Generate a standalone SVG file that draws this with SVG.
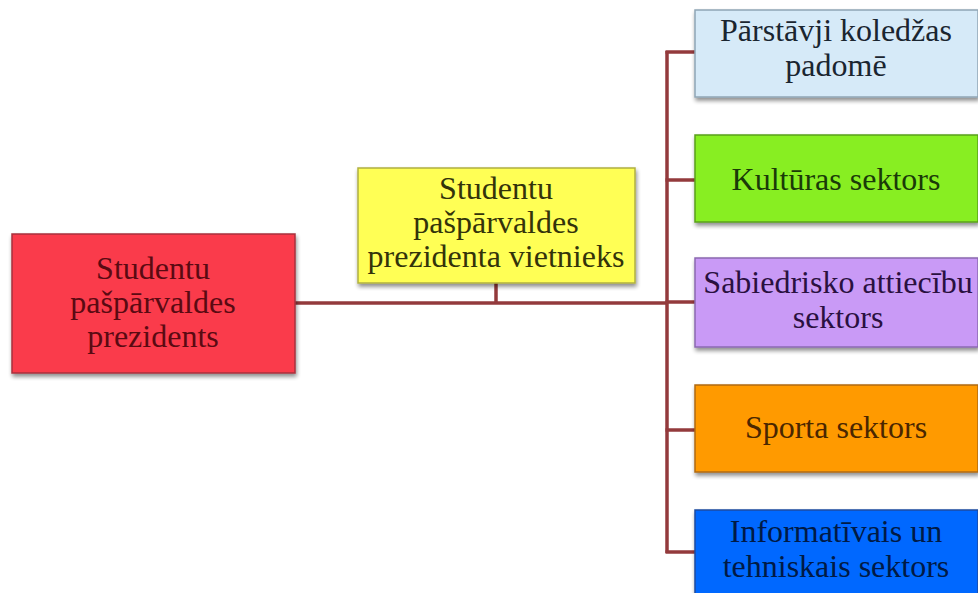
<svg xmlns="http://www.w3.org/2000/svg" width="978" height="593" viewBox="0 0 978 593">
<defs>
  <filter id="sh" x="-10%" y="-10%" width="120%" height="130%">
    <feGaussianBlur in="SourceAlpha" stdDeviation="2"/>
    <feOffset dx="1" dy="3" result="b"/>
    <feComponentTransfer><feFuncA type="linear" slope="0.45"/></feComponentTransfer>
    <feMerge><feMergeNode/><feMergeNode in="SourceGraphic"/></feMerge>
  </filter>
</defs>
<style>
  .box { filter: url(#sh); stroke-width: 1.5; }
  .t { font-size: 32px; text-anchor: middle; }
  .conn { stroke: #933A3C; stroke-width: 3.5; fill: none; }
</style>
<rect width="978" height="593" fill="#ffffff"/>
<g id="connectors">
  <line class="conn" x1="295" y1="303" x2="667" y2="303"/>
  <line class="conn" x1="496" y1="283" x2="496" y2="303"/>
  <line class="conn" x1="667" y1="51" x2="667" y2="553"/>
  <line class="conn" x1="665.5" y1="52" x2="695" y2="52"/>
  <line class="conn" x1="665.5" y1="180" x2="695" y2="180"/>
  <line class="conn" x1="665.5" y1="302" x2="695" y2="302"/>
  <line class="conn" x1="665.5" y1="430" x2="695" y2="430"/>
  <line class="conn" x1="665.5" y1="552" x2="695" y2="552"/>
</g>
<g font-family="Liberation Serif, DejaVu Serif, serif">
<g id="president">
  <rect class="box" x="12" y="234" width="283" height="139" fill="#FA3B4B" stroke="#A8303C"/>
  <text class="t" fill="#5A0A12"><tspan x="153" y="279">Studentu</tspan><tspan x="153" y="313">pašpārvaldes</tspan><tspan x="153" y="347">prezidents</tspan></text>
</g>
<g id="vice">
  <rect class="box" x="358" y="168" width="277" height="115" fill="#FFFF55" stroke="#B0B040"/>
  <text class="t" fill="#33330A"><tspan x="496" y="199">Studentu</tspan><tspan x="496" y="233">pašpārvaldes</tspan><tspan x="496" y="267">prezidenta vietnieks</tspan></text>
</g>
<g id="council">
  <rect class="box" x="695" y="10" width="283" height="87" fill="#D6EAF8" stroke="#8FA5B5"/>
  <text class="t" fill="#1A2530"><tspan x="836" y="41">Pārstāvji koledžas</tspan><tspan x="836" y="76">padomē</tspan></text>
</g>
<g id="culture">
  <rect class="box" x="695" y="135" width="283" height="87" fill="#88EE22" stroke="#5AA018"/>
  <text class="t" fill="#1A3A08" x="836" y="190">Kultūras sektors</text>
</g>
<g id="pr">
  <rect class="box" x="695" y="258" width="283" height="89" fill="#C99AF6" stroke="#8A68B0"/>
  <text class="t" fill="#2A1040"><tspan x="838" y="293">Sabiedrisko attiecību</tspan><tspan x="838" y="328">sektors</tspan></text>
</g>
<g id="sport">
  <rect class="box" x="695" y="385" width="283" height="87" fill="#FF9A00" stroke="#B06A10"/>
  <text class="t" fill="#4A2600" x="836" y="438">Sporta sektors</text>
</g>
<g id="info">
  <rect class="box" x="695" y="510" width="283" height="90" fill="#0068FF" stroke="#1A4AA0"/>
  <text class="t" fill="#001A45"><tspan x="836" y="542">Informatīvais un</tspan><tspan x="836" y="577">tehniskais sektors</tspan></text>
</g>
</g>
</svg>
